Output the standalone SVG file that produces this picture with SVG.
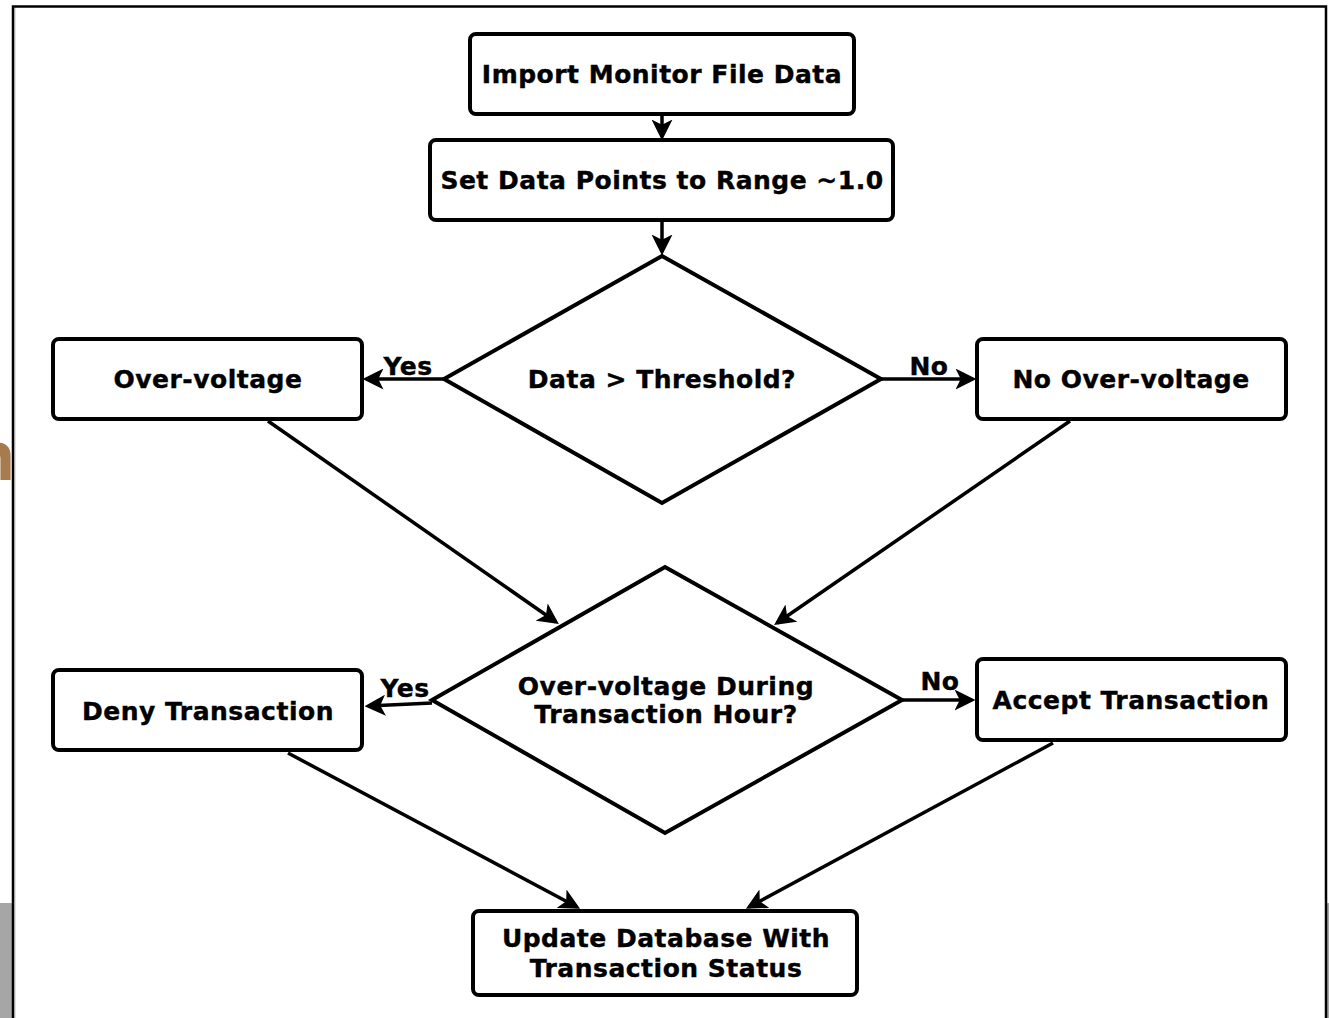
<svg xmlns="http://www.w3.org/2000/svg" width="1329" height="1018" viewBox="0 0 1329 1018">
<style>
.box{fill:#fff;stroke:#000;stroke-width:4}
.t{font-family:"DejaVu Sans",Verdana,sans-serif;font-weight:bold;font-size:25px;letter-spacing:0.5px;fill:#000;text-anchor:middle;stroke:#000;stroke-width:0.4}
.c{fill:none;stroke:#000;stroke-width:3.5}
.lbl{font-family:"DejaVu Sans",Verdana,sans-serif;font-weight:bold;font-size:25px;letter-spacing:0.5px;fill:#000;text-anchor:middle;stroke:#000;stroke-width:0.4}
</style>
<defs>
<marker id="ah" markerWidth="6" markerHeight="6" refX="5" refY="3" orient="auto" markerUnits="strokeWidth" viewBox="0 0 6 6">
<path d="M0,0 L6,3 L0,6 L1.5,3 z" fill="#000"/>
</marker>
</defs>
<rect x="0" y="0" width="1329" height="1018" fill="#fff"/>
<rect x="0" y="903" width="12" height="115" fill="#a6a6a6"/>
<rect x="1327" y="903" width="2" height="115" fill="#a6a6a6"/>
<text x="-29" y="480" font-family="Open Sans, sans-serif" font-size="68" font-weight="bold" fill="#a67c4e">n</text>
<g id="frame" fill="none" stroke="#000" stroke-width="2.5">
<path d="M13,1018 V6.5 H1326 V1018"/>
</g>
<line x1="14.8" y1="8" x2="14.8" y2="1018" stroke="#999" stroke-width="1"/>
<g id="connectors">
<line class="c" x1="662" y1="114" x2="662" y2="137" marker-end="url(#ah)"/>
<line class="c" x1="662" y1="220" x2="662" y2="252" marker-end="url(#ah)"/>
<line class="c" x1="444" y1="379" x2="366" y2="379" marker-end="url(#ah)"/>
<line class="c" x1="881" y1="379" x2="973" y2="379" marker-end="url(#ah)"/>
<line class="c" x1="268" y1="421" x2="556" y2="622" marker-end="url(#ah)"/>
<line class="c" x1="1070" y1="421" x2="777" y2="623" marker-end="url(#ah)"/>
<line class="c" x1="432" y1="703" x2="368" y2="706" marker-end="url(#ah)"/>
<line class="c" x1="902" y1="700" x2="972" y2="700" marker-end="url(#ah)"/>
<line class="c" x1="288" y1="753" x2="577" y2="907" marker-end="url(#ah)"/>
<line class="c" x1="1053" y1="743" x2="749" y2="907" marker-end="url(#ah)"/>
<text class="lbl" x="408" y="375">Yes</text>
<text class="lbl" x="929" y="375">No</text>
<text class="lbl" x="405" y="697">Yes</text>
<text class="lbl" x="940" y="690">No</text>
</g>
<g id="import">
<rect class="box" x="470" y="34" width="384" height="80" rx="6"/>
<text class="t" x="662" y="83">Import Monitor File Data</text>
</g>
<g id="setdata">
<rect class="box" x="430" y="140" width="463" height="80" rx="6"/>
<text class="t" x="662" y="189">Set Data Points to Range ~1.0</text>
</g>
<g id="threshold">
<polygon class="box" points="662,256 881,379 662,503 444,379"/>
<text class="t" x="662" y="388">Data &gt; Threshold?</text>
</g>
<g id="overvoltage">
<rect class="box" x="53" y="339" width="309" height="80" rx="6"/>
<text class="t" x="208" y="388">Over-voltage</text>
</g>
<g id="noovervoltage">
<rect class="box" x="977" y="339" width="309" height="80" rx="6"/>
<text class="t" x="1131" y="388">No Over-voltage</text>
</g>
<g id="during">
<polygon class="box" points="665,567 902,700 665,833 432,700"/>
<text class="t" x="666" y="695">Over-voltage During</text>
<text class="t" x="666" y="723">Transaction Hour?</text>
</g>
<g id="deny">
<rect class="box" x="53" y="670" width="309" height="80" rx="6"/>
<text class="t" x="208" y="720">Deny Transaction</text>
</g>
<g id="accept">
<rect class="box" x="977" y="659" width="309" height="81" rx="6"/>
<text class="t" x="1131" y="709">Accept Transaction</text>
</g>
<g id="update">
<rect class="box" x="473" y="911" width="384" height="84" rx="6"/>
<text class="t" x="666" y="947">Update Database With</text>
<text class="t" x="666" y="977">Transaction Status</text>
</g>
</svg>
